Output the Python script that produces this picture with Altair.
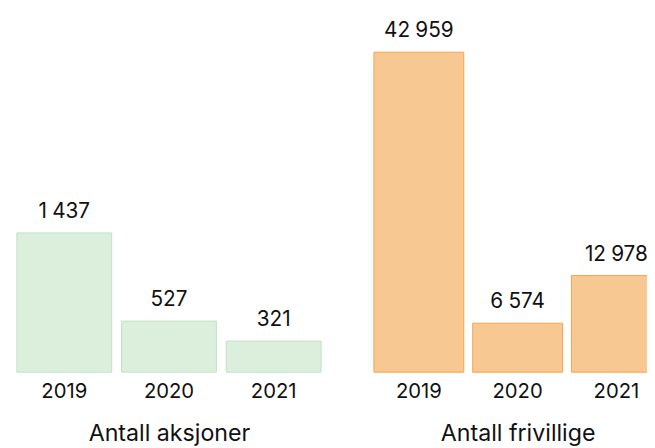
import altair as alt
import pandas as pd

years = ["2019", "2020", "2021"]
aksjoner = [1437, 527, 321]
frivillige = [42959, 6574, 12978]
titles = ["Antall aksjoner", "Antall frivillige"]

def fmt(v):
    return f"{v:,}".replace(",", "\u2005")

FONT = "Inter"
INK = "#111111"

def panel(values, title, fill, stroke, width, ymax, pad_inner):
    df = pd.DataFrame({"year": years, "value": values,
                       "label": [fmt(v) for v in values]})
    x = alt.X("year:N", title=title, sort=years,
              scale=alt.Scale(paddingInner=pad_inner, paddingOuter=pad_inner / 2),
              axis=alt.Axis(labelAngle=0, domain=False, ticks=False,
                            labelFontSize=20.5, labelFont=FONT, labelColor=INK,
                            labelPadding=10, titleFontSize=23.5, titleFont=FONT,
                            titleFontWeight="normal", titleColor=INK,
                            titlePadding=20))
    y = alt.Y("value:Q", scale=alt.Scale(domain=[0, ymax], nice=False), axis=None)
    bars = alt.Chart(df).mark_bar(fill=fill, stroke=stroke, strokeWidth=1).encode(x=x, y=y)
    text = alt.Chart(df).mark_text(baseline="alphabetic", dy=-15, fontSize=21,
                                   font=FONT, color=INK).encode(
        x=alt.X("year:N", sort=years), y=y, text="label:N")
    return alt.layer(bars, text).properties(width=width, height=324)

left = panel(aksjoner, titles[0], "#dcefdd", "#bfe3c3", 318, 1437 * 324 / 141, 0.094)
right = panel(frivillige, titles[1], "#f8c892", "#f5a54a", 300, 42959, 0.09)

chart = alt.hconcat(left, right, spacing=44).properties(
    padding={"left": 4, "top": 40, "right": 643, "bottom": 392},
    autosize=alt.AutoSizeParams(type="none")
).configure_view(stroke=None)

chart.save("out.html", embed_options={"renderer": "svg", "actions": False})
